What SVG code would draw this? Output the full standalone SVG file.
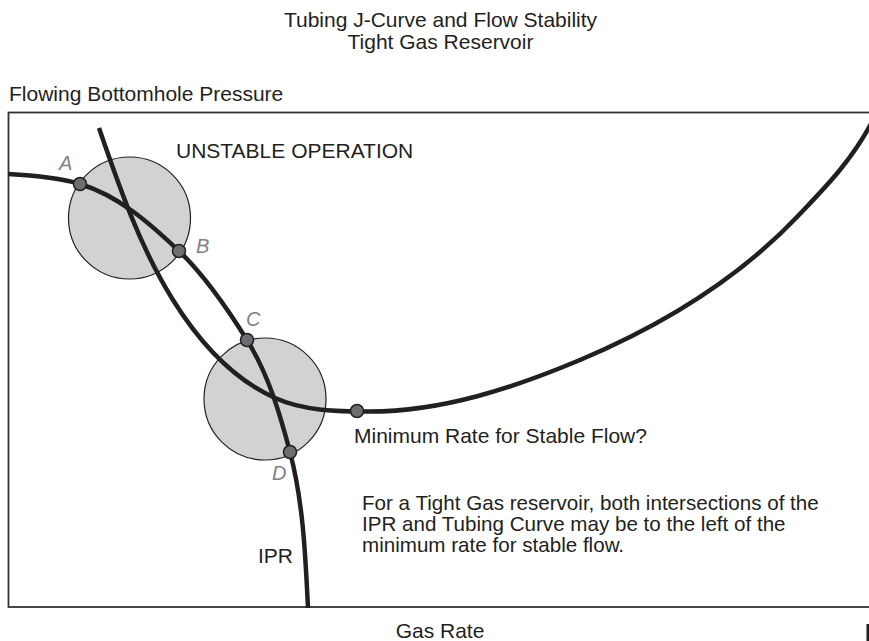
<svg xmlns="http://www.w3.org/2000/svg" width="869" height="641" viewBox="0 0 869 641">
<style>
text{font-family:"Liberation Sans",Arial,Helvetica,sans-serif;fill:#231f20;font-size:21px}
.lbl{font-style:italic;fill:#808285;font-size:20px}
.note{font-size:20.6px}
.zone{fill:#d1d2d4;stroke:#231f20;stroke-width:1.2}
.curve{fill:none;stroke:#231f20;stroke-width:4.5;stroke-linecap:butt}
.dot{fill:#6d6e71;stroke:#231f20;stroke-width:1.5}
.frame{fill:none;stroke:#333;stroke-width:1.8}
</style>
<rect width="869" height="641" fill="#fff"/>
<g id="title">
<text x="440.5" y="27" text-anchor="middle">Tubing J-Curve and Flow Stability</text>
<text x="440.5" y="48.5" text-anchor="middle">Tight Gas Reservoir</text>
</g>
<g id="axes">
<rect class="frame" x="8.5" y="112.5" width="880" height="494.5"/>
<text x="9" y="101">Flowing Bottomhole Pressure</text>
<text x="440" y="638" text-anchor="middle">Gas Rate</text>
<rect x="866.5" y="624" width="2.5" height="17" fill="#231f20"/>
</g>
<g id="zone-upper">
<circle class="zone" cx="129.5" cy="218" r="61"/>
<text x="176" y="158">UNSTABLE OPERATION</text>
</g>
<g id="zone-lower">
<circle class="zone" cx="265" cy="399" r="61"/>
</g>
<g id="connectors">
<path id="ipr" class="curve" d="M8,174 C32,175.2 57,177.1 80,184 C118.3,195.5 150,223.4 179,251 C205.8,276.5 227.4,308.6 247,340 C268.2,373.9 279.8,413.3 290,452 C303.2,502.3 305.4,555 308,608"/>
<path id="tubing" class="curve" d="M99,128 C119.2,186.6 140.1,247.4 173,300 C197.9,339.9 232.1,378.7 275,398 C304.2,411.1 338,411.5 370,411.5 C442,411.5 513.6,387.9 580,360 C660.2,326.2 737,280 797,217 C823.2,189.5 851.3,161.6 872,122"/>
</g>
<g id="point-A">
<circle class="dot" cx="80" cy="184" r="6.5"/>
<text class="lbl" x="59" y="170">A</text>
</g>
<g id="point-B">
<circle class="dot" cx="179" cy="251" r="6.5"/>
<text class="lbl" x="196" y="253">B</text>
</g>
<g id="point-C">
<circle class="dot" cx="247" cy="340" r="6.5"/>
<text class="lbl" x="246" y="326">C</text>
</g>
<g id="point-D">
<circle class="dot" cx="290" cy="452" r="6.5"/>
<text class="lbl" x="272" y="480">D</text>
</g>
<g id="min-rate">
<circle class="dot" cx="357" cy="411" r="6.5"/>
<text x="354" y="443">Minimum Rate for Stable Flow?</text>
</g>
<g id="ipr-label">
<text x="258" y="563">IPR</text>
</g>
<g id="note">
<text class="note" x="362" y="510">For a Tight Gas reservoir, both intersections of the</text>
<text class="note" x="362" y="531">IPR and Tubing Curve may be to the left of the</text>
<text class="note" x="362" y="552">minimum rate for stable flow.</text>
</g>
</svg>
